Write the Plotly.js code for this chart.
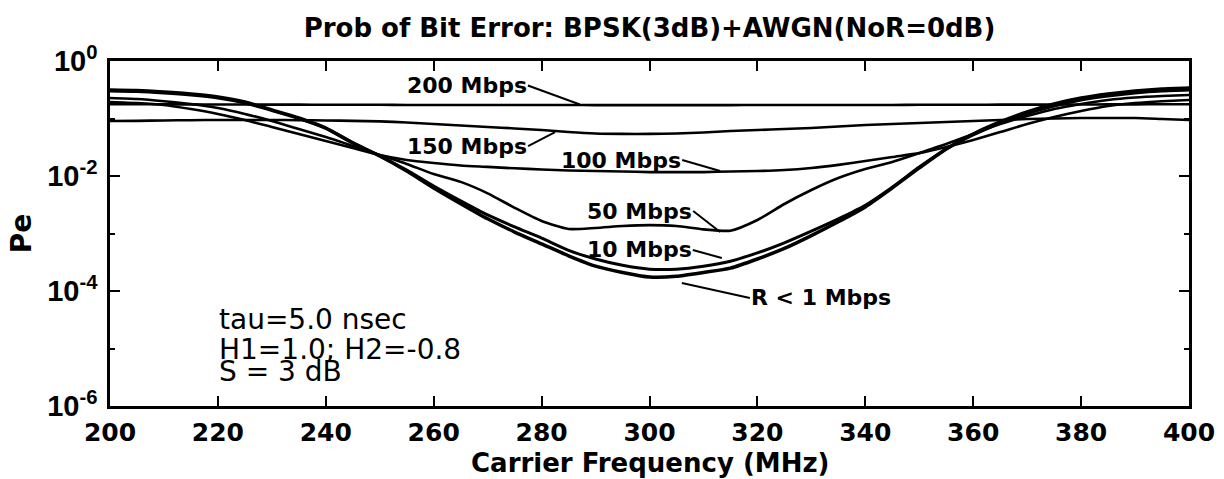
<!DOCTYPE html>
<html>
<head>
<meta charset="utf-8">
<script src="https://cdn.plot.ly/plotly-3.0.1.min.js"></script>
<style>
  html, body { margin: 0; padding: 0; background: #fff; }
  #chart { width: 1224px; height: 479px; }
</style>
</head>
<body>
<div id="chart"></div>
<script>
// Carrier frequency (MHz), 5 MHz steps
const freq = [200, 205, 210, 215, 220, 225, 230, 235, 240, 245, 250, 255, 260, 265, 270, 275, 280, 285, 290, 295, 300,
              305, 310, 315, 320, 325, 330, 335, 340, 345, 350, 355, 360, 365, 370, 375, 380, 385, 390, 395, 400];

// Probability of bit error per data rate
const peR1  = [0.313, 0.307, 0.289, 0.267, 0.237, 0.194, 0.141, 0.102, 0.068, 0.0375, 0.0223, 0.0122, 0.0062, 0.0033, 0.0018, 0.00106, 0.00066, 0.00041, 0.00027, 0.00021, 0.000175,
               0.00018, 0.00021, 0.00025, 0.00036, 0.00055, 0.00092, 0.0016, 0.0029, 0.0062, 0.0138, 0.0295, 0.0537, 0.087, 0.13, 0.179, 0.227, 0.267, 0.301, 0.326, 0.339];
const pe10  = [0.301, 0.295, 0.278, 0.256, 0.227, 0.186, 0.138, 0.1, 0.068, 0.038, 0.0223, 0.0127, 0.0067, 0.0037, 0.0021, 0.0013, 0.00083, 0.00051, 0.00036, 0.00028, 0.00024,
               0.00024, 0.00027, 0.00033, 0.00046, 0.00069, 0.0011, 0.0018, 0.0031, 0.0064, 0.0143, 0.0295, 0.0517, 0.0835, 0.122, 0.165, 0.21, 0.247, 0.278, 0.301, 0.313];
const pe50  = [0.227, 0.218, 0.2, 0.179, 0.152, 0.12, 0.0906, 0.0657, 0.0477, 0.0334, 0.0232, 0.0162, 0.0108, 0.0079, 0.005, 0.0028, 0.00165, 0.0012, 0.00125, 0.00135, 0.0014,
               0.00135, 0.00118, 0.00112, 0.00172, 0.00326, 0.0057, 0.0092, 0.0132, 0.0175, 0.025, 0.0359, 0.0537, 0.08, 0.11, 0.146, 0.179, 0.21, 0.232, 0.246, 0.256];
const pe100 = [0.194, 0.186, 0.172, 0.146, 0.12, 0.094, 0.071, 0.0537, 0.0408, 0.0307, 0.0232, 0.019, 0.0168, 0.0152, 0.0144, 0.0136, 0.013, 0.0125, 0.0122, 0.012, 0.0117,
               0.0117, 0.0117, 0.012, 0.0122, 0.0127, 0.0138, 0.0156, 0.0182, 0.0214, 0.025, 0.0319, 0.0423, 0.058, 0.08, 0.106, 0.135, 0.165, 0.186, 0.2, 0.21];
const pe150 = [0.0906, 0.091, 0.0925, 0.0935, 0.0943, 0.0943, 0.0943, 0.0935, 0.0925, 0.091, 0.089, 0.0853, 0.0803, 0.0757, 0.0713, 0.0672, 0.0632, 0.0584, 0.055, 0.054, 0.054,
               0.055, 0.057, 0.0606, 0.063, 0.0657, 0.0684, 0.0726, 0.0771, 0.0803, 0.0835, 0.087, 0.0906, 0.0943, 0.098, 0.1, 0.102, 0.102, 0.102, 0.098, 0.0943];
const pe200 = [0.177, 0.177, 0.176, 0.176, 0.175, 0.175, 0.174, 0.174, 0.173, 0.173, 0.173, 0.172, 0.172, 0.172, 0.172, 0.172, 0.172, 0.172, 0.171, 0.171, 0.171,
               0.171, 0.171, 0.171, 0.172, 0.172, 0.172, 0.172, 0.172, 0.172, 0.173, 0.173, 0.173, 0.174, 0.174, 0.175, 0.175, 0.176, 0.176, 0.177, 0.177];

// Tick labels
const xTicks = [200, 220, 240, 260, 280, 300, 320, 340, 360, 380, 400];
const yTickVals = [1e-6, 1e-4, 1e-2, 1];
const yTickText = ['10<sup>-6</sup>', '10<sup>-4</sup>', '10<sup>-2</sup>', '10<sup>0</sup>'];
const yMinorVals = [1e-5, 1e-3, 1e-1];

// Curve labels and where their leader lines point
const labelText = ['200 Mbps', '150 Mbps', '100 Mbps', '50 Mbps', '10 Mbps', 'R < 1 Mbps'];
const labelFreq = [287.1, 282.5, 313.1, 313.1, 313.4, 306.0];
const labelPe   = [0.175, 0.058, 0.0122, 0.00106, 0.000375, 0.000138];

const infoLines = ['tau=5.0 nsec', 'H1=1.0; H2=-0.8', 'S = 3 dB'];

const series = [
  {name: 'R < 1 Mbps', y: peR1, w: 3.5},
  {name: '10 Mbps', y: pe10, w: 3},
  {name: '50 Mbps', y: pe50, w: 2.6},
  {name: '100 Mbps', y: pe100, w: 2.6},
  {name: '150 Mbps', y: pe150, w: 2.6},
  {name: '200 Mbps', y: pe200, w: 2.6}
];

const traces = series.map(s => ({
  type: 'scatter', mode: 'lines', name: s.name,
  x: freq, y: s.y,
  line: {color: '#000', width: s.w, shape: 'spline', smoothing: 0.6},
  hoverinfo: 'x+y+name'
}));

const lblFont = {family: 'DejaVu Sans', size: 22, color: '#000', weight: 'bold'};
// [ax, ay, xanchor]
const lblOffsets = [[-52, -19, 'right'], [-27, 14, 'right'], [-38, -11, 'right'], [-27, -21, 'right'], [-29, -8, 'right'], [68, 15, 'left']];

const annotations = labelText.map((t, i) => ({
  x: labelFreq[i], y: Math.log10(labelPe[i]), xref: 'x', yref: 'y',
  text: t, showarrow: true, arrowhead: 0, arrowwidth: 2, arrowcolor: '#000',
  ax: lblOffsets[i][0], ay: lblOffsets[i][1], xanchor: lblOffsets[i][2], yanchor: 'middle',
  standoff: 0, startstandoff: 0, borderpad: 0,
  font: lblFont
}));

const infoY = [0.252, 0.165, 0.099];
infoLines.forEach((t, i) => annotations.push({
  x: 0.099, y: infoY[i], xref: 'paper', yref: 'paper',
  text: t, showarrow: false, xanchor: 'left', yanchor: 'middle',
  font: {family: 'DejaVu Sans', size: 28, color: '#000'}
}));

// x-axis title
annotations.push({
  x: 0.5, y: -0.166, xref: 'paper', yref: 'paper',
  text: 'Carrier Frequency (MHz)', showarrow: false, xanchor: 'center', yanchor: 'middle',
  font: {family: 'DejaVu Sans', size: 26, color: '#000', weight: 'bold'}
});

const layout = {
  width: 1224, height: 479,
  margin: {l: 110, r: 35, t: 61, b: 73},
  paper_bgcolor: '#fff', plot_bgcolor: '#fff',
  showlegend: false,
  title: {
    text: 'Prob of Bit Error: BPSK(3dB)+AWGN(NoR=0dB)',
    xref: 'paper', x: 0.5, xanchor: 'center',
    yref: 'container', y: 0.941, yanchor: 'middle',
    font: {family: 'DejaVu Sans', size: 26, color: '#000', weight: 'bold'}
  },
  xaxis: {
    range: [200, 400], tickvals: xTicks, ticktext: xTicks.map(String),
    ticks: 'inside', ticklen: 10, tickwidth: 2, tickcolor: '#000',
    showline: true, linecolor: '#000', linewidth: 2.5, mirror: 'allticks',
    showgrid: false, zeroline: false,
    ticklabelstandoff: 2,
    tickfont: {family: 'DejaVu Sans', size: 25, color: '#000', weight: 'bold'},
    automargin: false
  },
  yaxis: {
    type: 'log', range: [-6, 0],
    tickvals: yTickVals, ticktext: yTickText,
    ticks: 'inside', ticklen: 10, tickwidth: 2, tickcolor: '#000',
    minor: {tickvals: yMinorVals, ticks: 'inside', ticklen: 5, tickwidth: 2, tickcolor: '#000', showgrid: false},
    showline: true, linecolor: '#000', linewidth: 2.5, mirror: 'allticks',
    showgrid: false, zeroline: false,
    ticklabelstandoff: 4,
    tickfont: {family: 'Liberation Sans', size: 29, color: '#000', weight: 'bold'},
    title: {text: 'Pe', standoff: 8,
            font: {family: 'DejaVu Sans', size: 28, color: '#000', weight: 'bold'}},
    automargin: false
  },
  annotations: annotations
};

Plotly.newPlot('chart', traces, layout, {displayModeBar: false});
</script>
</body>
</html>
